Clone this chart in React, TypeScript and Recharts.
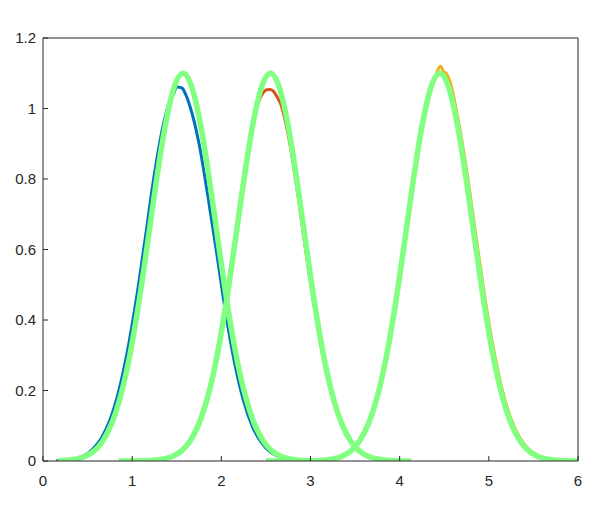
import React from "react";
import { LineChart, Line, XAxis, YAxis } from "recharts";

const blueX = [0.15, 0.25, 0.35, 0.45, 0.55, 0.65, 0.75, 0.85, 0.95, 1.05, 1.15, 1.25, 1.35, 1.42, 1.47, 1.5, 1.53, 1.56, 1.6, 1.65, 1.75, 1.85, 1.95, 2.05, 2.15, 2.25, 2.35, 2.45, 2.55, 2.65, 2.75, 2.85];
const blueY = [0.001, 0.002, 0.006, 0.014, 0.032, 0.063, 0.116, 0.199, 0.316, 0.465, 0.638, 0.815, 0.955, 1.02, 1.045, 1.062, 1.06, 1.058, 1.04, 1.005, 0.9, 0.75, 0.586, 0.418, 0.277, 0.17, 0.097, 0.052, 0.025, 0.012, 0.005, 0.002];

const redX = [0.95, 1.15, 1.25, 1.35, 1.45, 1.55, 1.65, 1.75, 1.85, 1.95, 2.05, 2.15, 2.25, 2.35, 2.42, 2.47, 2.51, 2.55, 2.58, 2.62, 2.67, 2.75, 2.85, 2.95, 3.05, 3.15, 3.25, 3.35, 3.45, 3.55, 3.65, 3.75, 3.85, 3.95, 4.05];
const redY = [0, 0.001, 0.002, 0.006, 0.014, 0.031, 0.061, 0.113, 0.194, 0.308, 0.458, 0.63, 0.808, 0.955, 1.02, 1.045, 1.053, 1.054, 1.05, 1.035, 1.01, 0.925, 0.77, 0.59, 0.425, 0.282, 0.175, 0.1, 0.054, 0.026, 0.012, 0.005, 0.002, 0.001, 0];

const yellowX = [2.55, 3.05, 3.15, 3.25, 3.35, 3.45, 3.55, 3.65, 3.75, 3.85, 3.95, 4.05, 4.15, 4.25, 4.35, 4.4, 4.44, 4.46, 4.49, 4.52, 4.56, 4.65, 4.75, 4.85, 4.95, 5.05, 5.15, 5.25, 5.35, 5.45, 5.55, 5.65, 5.75, 5.85, 5.95];
const yellowY = [0, 0.001, 0.002, 0.005, 0.012, 0.027, 0.054, 0.101, 0.175, 0.282, 0.425, 0.595, 0.774, 0.935, 1.05, 1.09, 1.115, 1.12, 1.105, 1.1, 1.08, 0.977, 0.826, 0.649, 0.474, 0.322, 0.203, 0.119, 0.065, 0.033, 0.016, 0.007, 0.003, 0.001, 0];

const fit1X = [0.17, 0.27, 0.37, 0.47, 0.57, 0.67, 0.77, 0.87, 0.97, 1.07, 1.17, 1.27, 1.37, 1.47, 1.57, 1.67, 1.77, 1.87, 1.97, 2.07, 2.17, 2.27, 2.37, 2.47, 2.57, 2.67, 2.77, 2.87, 2.97];
const fit1Y = [0.001, 0.002, 0.006, 0.013, 0.028, 0.057, 0.106, 0.184, 0.295, 0.441, 0.613, 0.792, 0.95, 1.06, 1.1, 1.06, 0.95, 0.792, 0.613, 0.441, 0.295, 0.184, 0.106, 0.057, 0.028, 0.013, 0.006, 0.002, 0.001];

const fit2X = [0.85, 1.15, 1.25, 1.35, 1.45, 1.55, 1.65, 1.75, 1.85, 1.95, 2.05, 2.15, 2.25, 2.35, 2.45, 2.55, 2.65, 2.75, 2.85, 2.95, 3.05, 3.15, 3.25, 3.35, 3.45, 3.55, 3.65, 3.75, 3.85, 3.95, 4.13];
const fit2Y = [0, 0.001, 0.002, 0.006, 0.013, 0.028, 0.057, 0.106, 0.184, 0.295, 0.441, 0.613, 0.792, 0.95, 1.06, 1.1, 1.06, 0.95, 0.792, 0.613, 0.441, 0.295, 0.184, 0.106, 0.057, 0.028, 0.013, 0.006, 0.002, 0.001, 0];

const fit3X = [2.5, 3.05, 3.15, 3.25, 3.35, 3.45, 3.55, 3.65, 3.75, 3.85, 3.95, 4.05, 4.15, 4.25, 4.35, 4.45, 4.55, 4.65, 4.75, 4.85, 4.95, 5.05, 5.15, 5.25, 5.35, 5.45, 5.55, 5.65, 5.75, 5.85, 6.0];
const fit3Y = [0, 0.001, 0.002, 0.006, 0.013, 0.028, 0.057, 0.106, 0.184, 0.295, 0.441, 0.613, 0.792, 0.95, 1.06, 1.1, 1.06, 0.95, 0.792, 0.613, 0.441, 0.295, 0.184, 0.106, 0.057, 0.028, 0.013, 0.006, 0.002, 0.001, 0];

const xTicks = [0, 1, 2, 3, 4, 5, 6];
const yTicks = [0, 0.2, 0.4, 0.6, 0.8, 1, 1.2];

const toPoints = (xs: number[], ys: number[]) => xs.map((x, i) => ({ x, y: ys[i] }));

const series = [
  { name: "data1", points: toPoints(blueX, blueY), color: "#0072BD", width: 3 },
  { name: "data2", points: toPoints(redX, redY), color: "#D95319", width: 3 },
  { name: "data3", points: toPoints(yellowX, yellowY), color: "#EDB120", width: 3 },
  { name: "fit1", points: toPoints(fit1X, fit1Y), color: "#80FF80", width: 5.5 },
  { name: "fit2", points: toPoints(fit2X, fit2Y), color: "#80FF80", width: 5.5 },
  { name: "fit3", points: toPoints(fit3X, fit3Y), color: "#80FF80", width: 5.5 },
];

const AXIS = "#262626";
const FONT = "'Liberation Sans', Arial, Helvetica, sans-serif";

// MATLAB-ish tick labels; recharts hands us the anchor point
const XTick = (p: any) => (
  <text x={p.x} y={p.y} dy={11} textAnchor="middle" fill={AXIS} fontSize={15} fontFamily={FONT}>
    {p.payload.value}
  </text>
);
const YTick = (p: any) => (
  <text x={p.x} y={p.y} dy={5} textAnchor="end" fill={AXIS} fontSize={15} fontFamily={FONT}>
    {p.payload.value}
  </text>
);

export default function App() {
  return (
    <div style={{ position: "absolute", left: 0, top: 0, width: 598, height: 518, background: "#fff" }}>
      <LineChart width={598} height={518} margin={{ top: 37, right: 19, bottom: 27, left: 8 }}>
        <XAxis
          type="number"
          dataKey="x"
          domain={[0, 6]}
          ticks={xTicks}
          allowDataOverflow
          height={30}
          tickSize={-5}
          tickMargin={19}
          stroke={AXIS}
          tick={XTick}
        />
        <XAxis
          xAxisId="top"
          orientation="top"
          type="number"
          dataKey="x"
          domain={[0, 6]}
          ticks={xTicks}
          height={1}
          tickSize={-5}
          stroke={AXIS}
          tick={false}
        />
        <YAxis
          type="number"
          domain={[0, 1.2]}
          ticks={yTicks}
          allowDataOverflow
          width={35}
          tickSize={-5}
          tickMargin={12}
          stroke={AXIS}
          tick={YTick}
        />
        <YAxis
          yAxisId="right"
          orientation="right"
          type="number"
          domain={[0, 1.2]}
          ticks={yTicks}
          width={1}
          tickSize={-5}
          stroke={AXIS}
          tick={false}
        />
        {series.map((s) => (
          <Line
            key={s.name}
            data={s.points}
            dataKey="y"
            type="monotone"
            stroke={s.color}
            strokeWidth={s.width}
            dot={false}
            activeDot={false}
            isAnimationActive={false}
          />
        ))}
      </LineChart>
    </div>
  );
}
